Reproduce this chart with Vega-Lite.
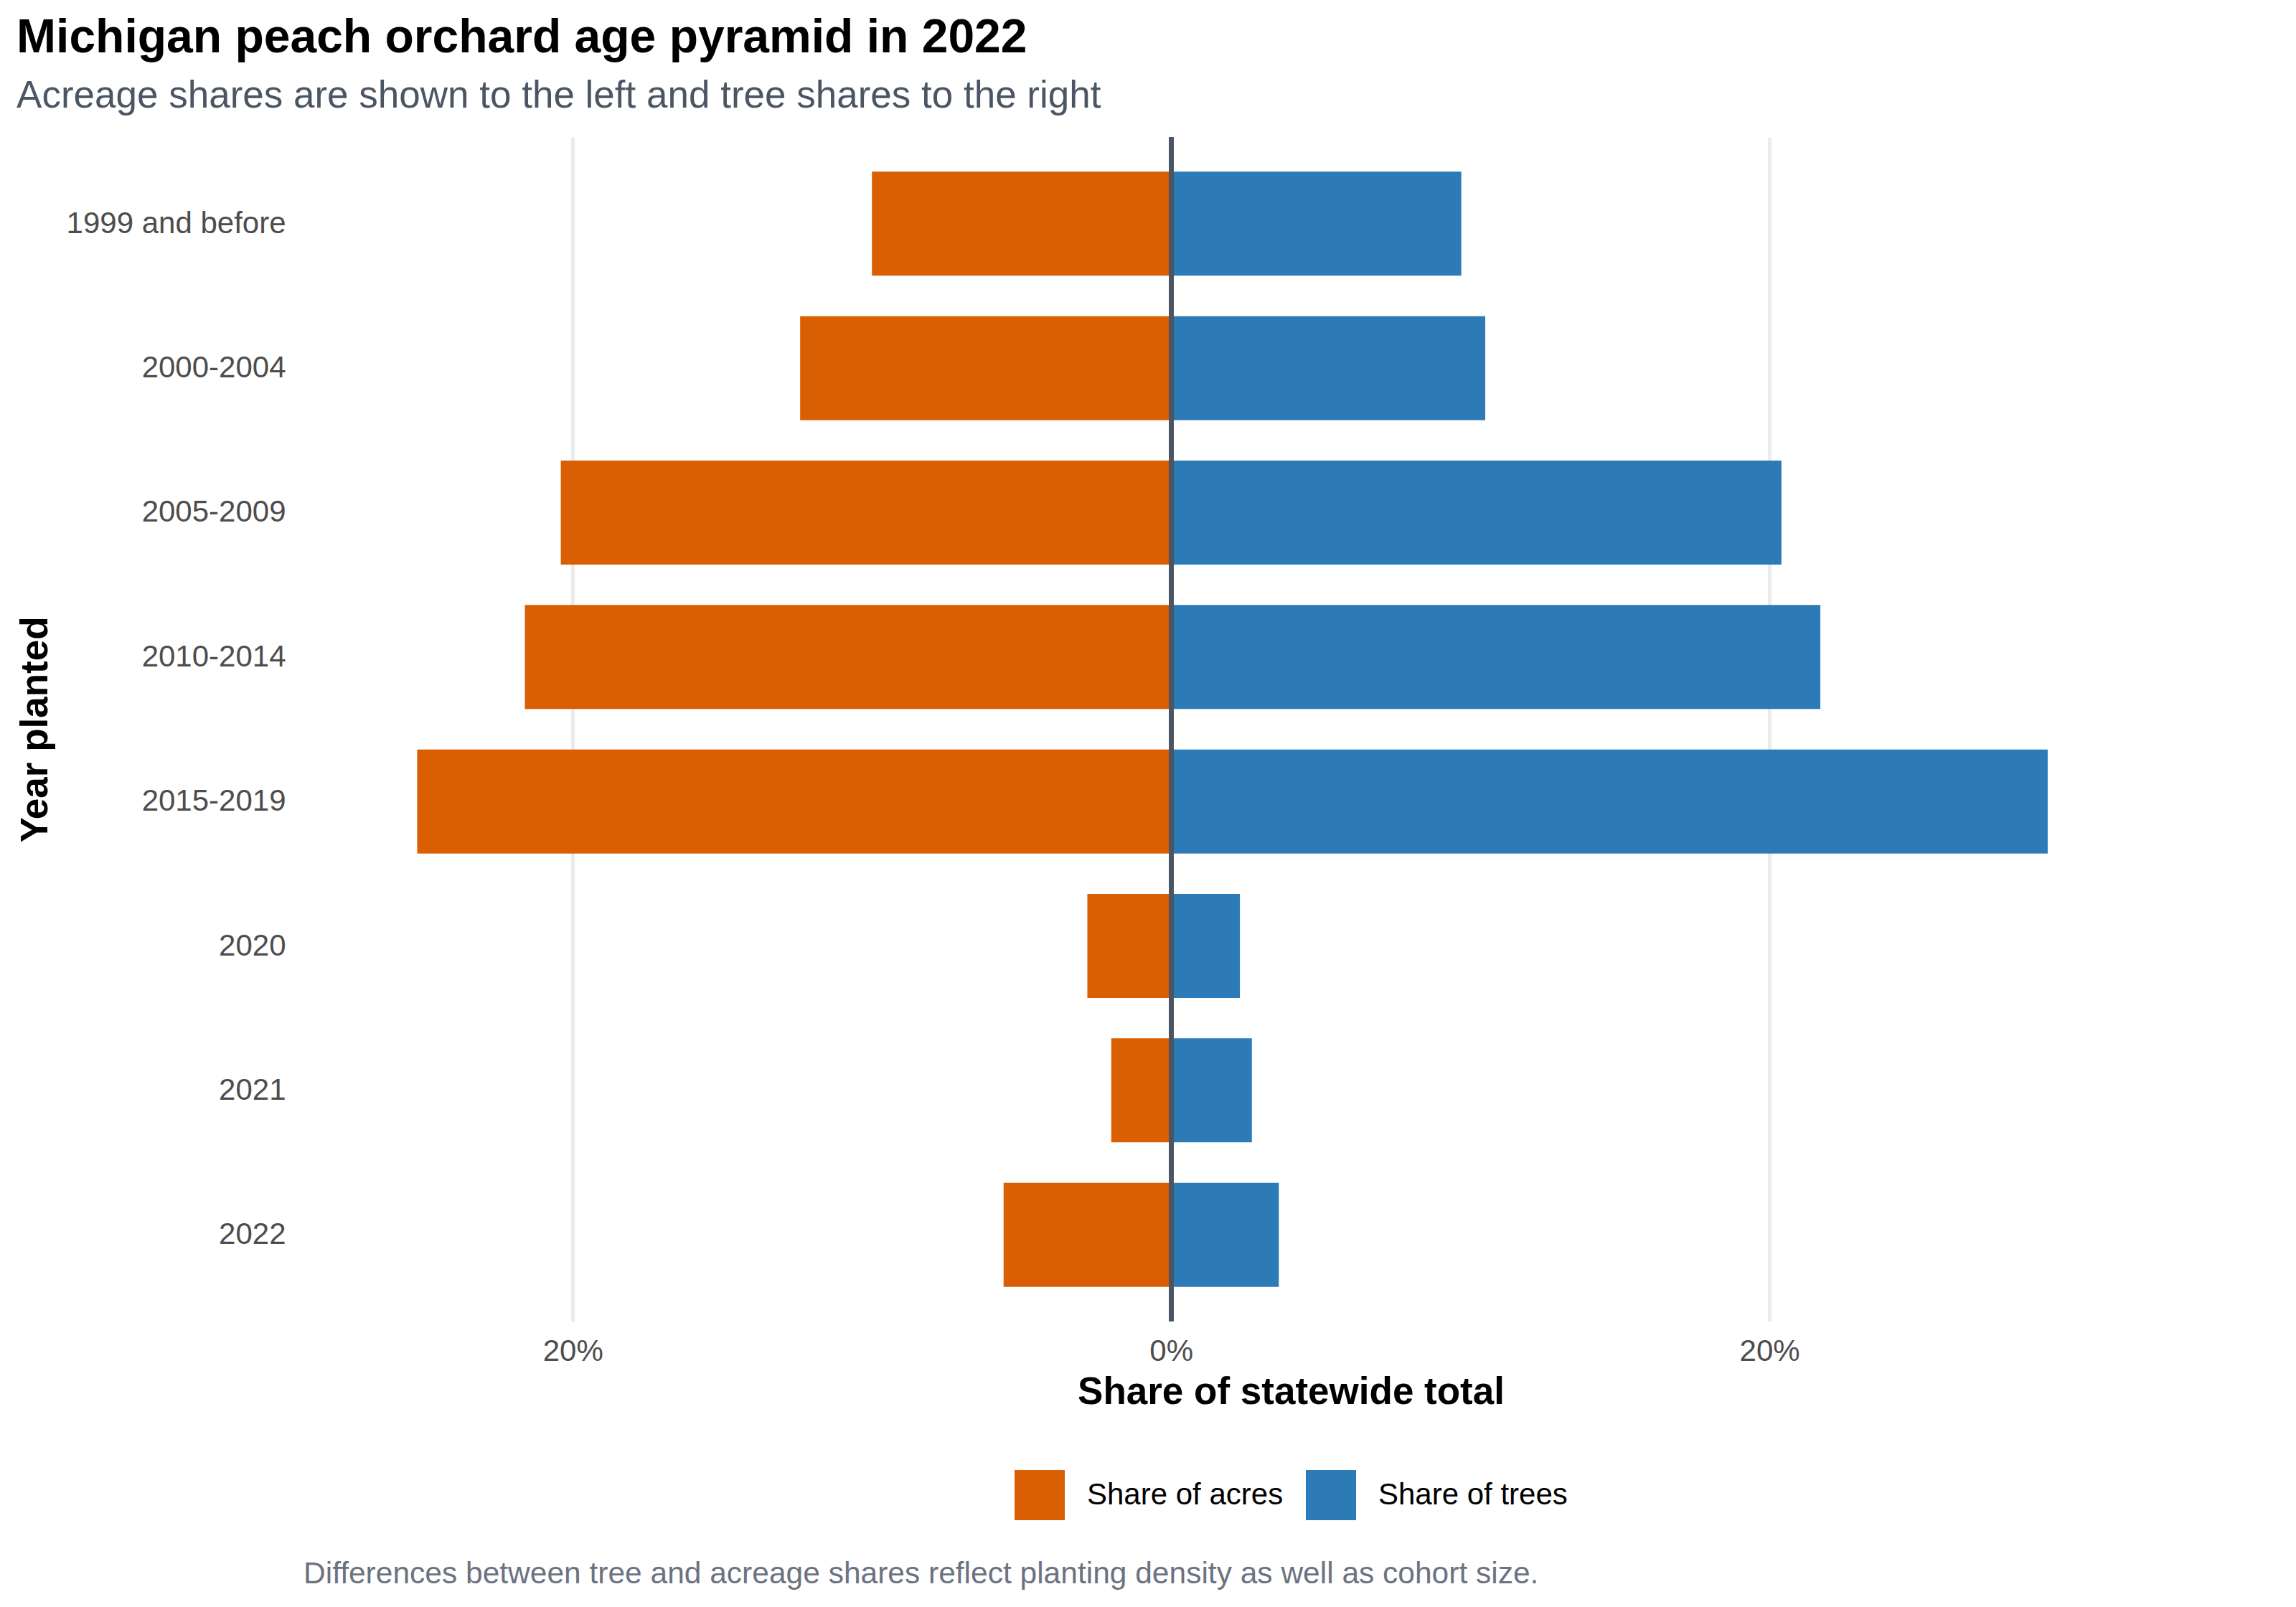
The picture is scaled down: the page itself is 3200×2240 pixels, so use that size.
{
  "$schema": "https://vega.github.io/schema/vega-lite/v6.json",
  "background": "white",
  "padding": {"left": 23, "top": 20, "right": 0, "bottom": 0},
  "spacing": 53,
  "resolve": {"legend": {"color": "independent"}},
  "config": {
    "font": "Liberation Sans",
    "view": {"stroke": null},
    "legend": {"layout": {"bottom": {"anchor": "middle"}}}
  },
  "title": {
    "text": "Michigan peach orchard age pyramid in 2022",
    "subtitle": "Acreage shares are shown to the left and tree shares to the right",
    "anchor": "start",
    "frame": "bounds",
    "fontSize": 66,
    "fontWeight": "bold",
    "color": "#000000",
    "subtitleFontSize": 53,
    "subtitleColor": "#4b5563",
    "subtitlePadding": 21,
    "offset": 26
  },
  "vconcat": [
    {
      "width": 2752,
      "height": 1651,
      "data": {
        "values": [
          {"year": "1999 and before", "measure": "Share of acres", "value": -10.0},
          {"year": "1999 and before", "measure": "Share of trees", "value": 9.7},
          {"year": "2000-2004", "measure": "Share of acres", "value": -12.4},
          {"year": "2000-2004", "measure": "Share of trees", "value": 10.5},
          {"year": "2005-2009", "measure": "Share of acres", "value": -20.4},
          {"year": "2005-2009", "measure": "Share of trees", "value": 20.4},
          {"year": "2010-2014", "measure": "Share of acres", "value": -21.6},
          {"year": "2010-2014", "measure": "Share of trees", "value": 21.7},
          {"year": "2015-2019", "measure": "Share of acres", "value": -25.2},
          {"year": "2015-2019", "measure": "Share of trees", "value": 29.3},
          {"year": "2020", "measure": "Share of acres", "value": -2.8},
          {"year": "2020", "measure": "Share of trees", "value": 2.3},
          {"year": "2021", "measure": "Share of acres", "value": -2.0},
          {"year": "2021", "measure": "Share of trees", "value": 2.7},
          {"year": "2022", "measure": "Share of acres", "value": -5.6},
          {"year": "2022", "measure": "Share of trees", "value": 3.6}
        ]
      },
      "layer": [
        {
          "mark": {"type": "bar"},
          "encoding": {
            "y": {
              "field": "year",
              "type": "nominal",
              "sort": null,
              "scale": {"paddingInner": 0.28, "paddingOuter": 0.24},
              "axis": {
                "title": "Year planted",
                "titleFontSize": 53,
                "titleFontWeight": "bold",
                "titleColor": "#000000",
                "titlePadding": 16,
                "labelFontSize": 42,
                "labelColor": "#4d4d4d",
                "labelPadding": 25,
                "labelLimit": 1000,
                "maxExtent": 1000,
                "ticks": false,
                "tickSize": 0,
                "domain": false,
                "grid": false
              }
            },
            "x": {
              "field": "value",
              "type": "quantitative",
              "stack": null,
              "scale": {"domain": [-29, 37], "nice": false},
              "axis": {
                "values": [-20, 0, 20],
                "labelExpr": "abs(datum.value) + '%'",
                "title": "Share of statewide total",
                "titleFontSize": 53,
                "titleFontWeight": "bold",
                "titleColor": "#000000",
                "titlePadding": 10,
                "labelFontSize": 42,
                "labelColor": "#4d4d4d",
                "labelPadding": 21,
                "labelFlush": false,
                "maxExtent": 1000,
                "ticks": false,
                "tickSize": 0,
                "domain": false,
                "grid": true,
                "gridColor": "#ebebeb",
                "gridWidth": 5
              }
            },
            "color": {
              "field": "measure",
              "type": "nominal",
              "scale": {
                "domain": ["Share of acres", "Share of trees"],
                "range": ["#d95f02", "#2c7bb6"]
              },
              "legend": {
                "orient": "bottom",
                "direction": "horizontal",
                "title": null,
                "symbolType": "square",
                "symbolSize": 4900,
                "symbolStrokeWidth": 0,
                "labelFontSize": 42,
                "labelColor": "#000000",
                "labelOffset": 31,
                "labelLimit": 1000,
                "columnPadding": 31,
                "padding": 0,
                "offset": 82
              }
            }
          }
        },
        {
          "mark": {"type": "rule", "color": "#4b5563", "strokeWidth": 6},
          "encoding": {"x": {"datum": 0}}
        }
      ]
    },
    {
      "width": 2752,
      "height": 1,
      "title": {
        "text": "Differences between tree and acreage shares reflect planting density as well as cohort size.",
        "anchor": "start",
        "frame": "group",
        "fontSize": 42.5,
        "fontWeight": "normal",
        "color": "#6b7280",
        "offset": 0
      },
      "data": {"values": []},
      "mark": {"type": "text"},
      "encoding": {}
    }
  ]
}
